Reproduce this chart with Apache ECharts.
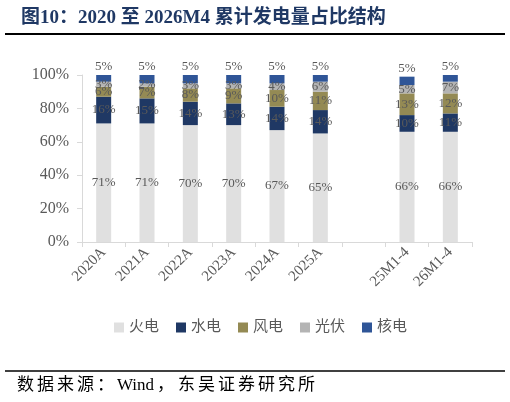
<!DOCTYPE html>
<html>
<head>
<meta charset="UTF-8">
<title>累计发电量占比结构</title>
<script src="https://cdn.jsdelivr.net/npm/echarts@6/dist/echarts.min.js"></script>
<style>
	html, body {margin:0; padding:0; background:#fff;}
	#chart {width:510px; height:402px;}
</style>
</head>
<body>
<div id="chart"></div>
<script>
	// values, in percent
	const categories = ['2020A', '2021A', '2022A', '2023A', '2024A', '2025A', '', '25M1-4', '26M1-4'];
	const thermal = [71, 71, 70, 70, 67, 65, '-', 66, 66];
	const hydro   = [16, 15, 14, 13, 14, 14, '-', 10, 11];
	const wind    = [6, 7, 8, 9, 10, 11, '-', 13, 12];
	const solar   = [3, 2, 3, 3, 4, 6, '-', 5, 7];
	const nuclear = [5, 5, 5, 5, 5, 5, '-', 5, 5];
	const yTicks = [0, 20, 40, 60, 80, 100];

	const serif = "'Liberation Serif', 'Times New Roman', 'Noto Sans CJK SC', serif";
	const grey = '#595959';

	function makeSeries(name, data, color, pos) {
		return {
			name: name,
			type: 'bar',
			stack: 'total',
			barWidth: 15,
			data: data,
			itemStyle: {color: color},
			label: {
				show: true,
				position: pos,
				distance: 2,
				formatter: '{c}%',
				color: grey,
				fontFamily: serif,
				fontSize: 13
			}
		};
	}

	// source line, spaced out a little like the original
	const srcParts = [['数', 17], ['据', 37], ['来', 57], ['源', 77], ['：', 97], ['Wind', 117], ['，', 157],
		['东', 178], ['吴', 198], ['证', 218], ['券', 238], ['研', 258], ['究', 278], ['所', 298]];
	const srcText = srcParts.map(function (p) {
		return {type: 'text', x: p[1], y: 377, style: {text: p[0], fill: '#000', font: "17px 'Liberation Serif', 'Noto Sans CJK SC', serif"}};
	});

	const chart = echarts.init(document.getElementById('chart'));
	chart.setOption({
		animation: false,
		title: {
			text: '图10：2020 至 2026M4 累计发电量占比结构',
			left: 16, top: 4,
			textStyle: {color: '#1f3864', fontSize: 19, fontWeight: 'bold', fontFamily: serif}
		},
		graphic: [
			{type: 'line', shape: {x1: 5, y1: 34, x2: 505, y2: 34}, style: {stroke: '#000', lineWidth: 2}},
			{type: 'line', shape: {x1: 5, y1: 371, x2: 505, y2: 371}, style: {stroke: '#000', lineWidth: 1.5}}
		].concat(srcText),
		legend: {
			left: 109, top: 315,
			itemWidth: 10, itemHeight: 10, itemGap: 17,
			icon: 'rect',
			textStyle: {color: grey, fontSize: 15, fontFamily: serif},
			data: ['火电', '水电', '风电', '光伏', '核电']
		},
		grid: {left: 82, right: 38, top: 75, bottom: 160, containLabel: false},
		xAxis: {
			type: 'category',
			data: categories,
			axisLine: {lineStyle: {color: '#d9d9d9'}},
			axisTick: {show: true, length: 5, lineStyle: {color: '#d9d9d9'}},
			axisLabel: {rotate: 45, color: grey, fontSize: 15, fontFamily: serif, interval: 0, margin: 8}
		},
		yAxis: {
			type: 'value',
			min: yTicks[0], max: yTicks[yTicks.length - 1], interval: 20,
			splitLine: {show: false},
			axisLine: {show: true, lineStyle: {color: '#d9d9d9'}},
			axisTick: {show: true, length: 5, lineStyle: {color: '#d9d9d9'}},
			axisLabel: {formatter: '{value}%', color: grey, fontSize: 16, fontFamily: serif, margin: 13}
		},
		series: [
			makeSeries('火电', thermal, '#e0e0e0', 'inside'),
			makeSeries('水电', hydro, '#1f3864', 'inside'),
			makeSeries('风电', wind, '#948a54', 'inside'),
			makeSeries('光伏', solar, '#b4b4b4', 'inside'),
			makeSeries('核电', nuclear, '#2f5597', 'top')
		]
	});
</script>
</body>
</html>
